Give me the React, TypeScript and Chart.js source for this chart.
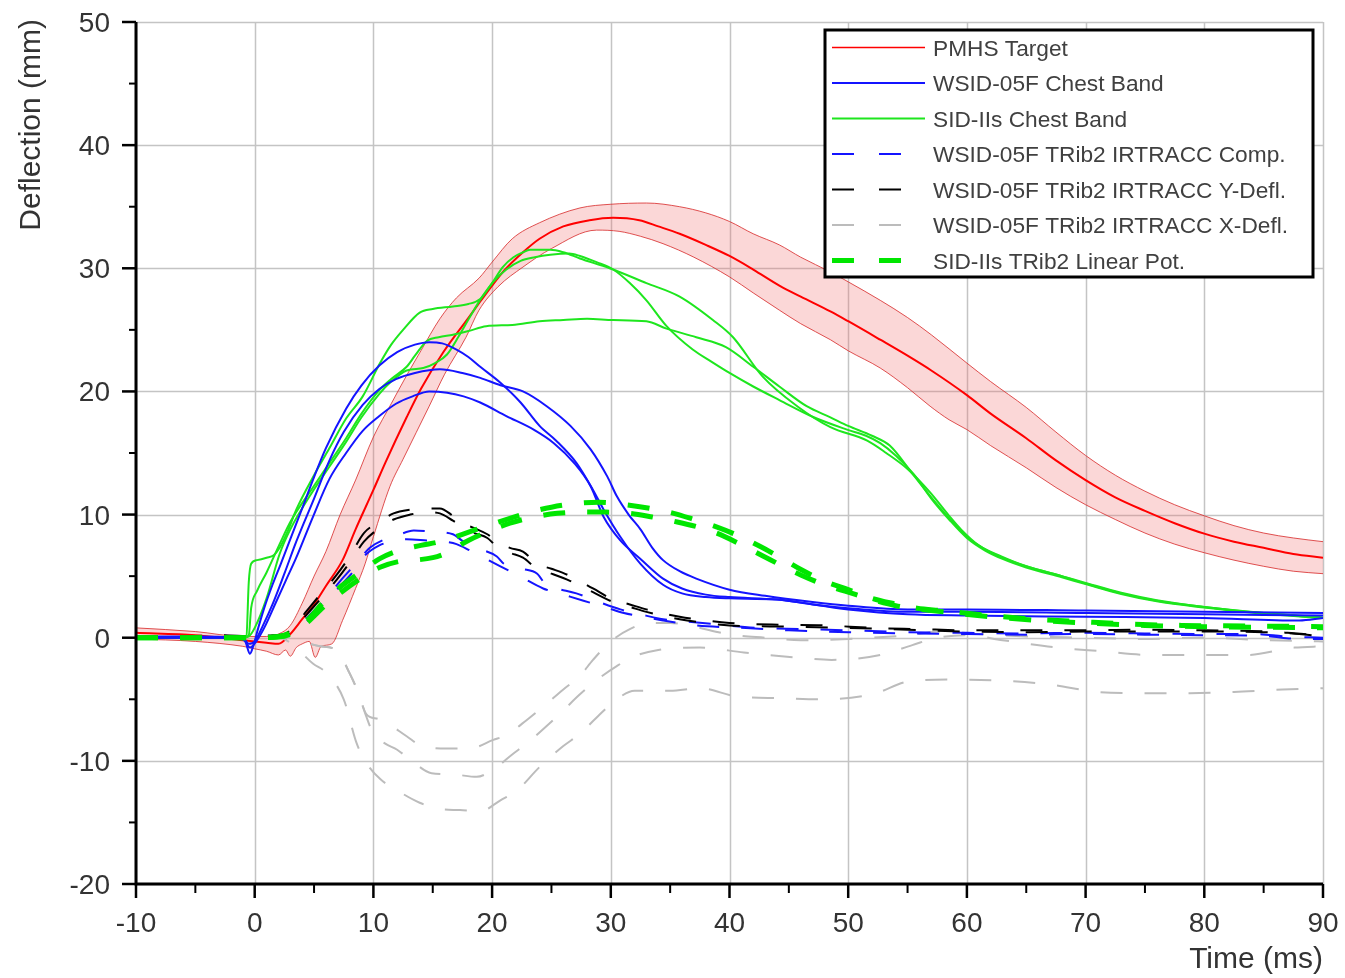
import React, { useEffect, useRef } from "react";
import { Chart, registerables } from "chart.js";

Chart.register(...registerables);

type Pt = [number, number];

const X_MIN = -10;
const X_MAX = 90;
const Y_MIN = -20;
const Y_MAX = 50;
const xMajorTicks = [-10, 0, 10, 20, 30, 40, 50, 60, 70, 80, 90];
const xMinorTicks = [-5, 5, 15, 25, 35, 45, 55, 65, 75, 85];
const yMajorTicks = [-20, -10, 0, 10, 20, 30, 40, 50];
const yMinorTicks = [-15, -5, 5, 15, 25, 35, 45];
const xTitle = "Time (ms)";
const yTitle = "Deflection (mm)";

const legendLabels = [
  "PMHS Target",
  "WSID-05F Chest Band",
  "SID-IIs Chest Band",
  "WSID-05F TRib2 IRTRACC Comp.",
  "WSID-05F TRib2 IRTRACC Y-Defl.",
  "WSID-05F TRib2 IRTRACC X-Defl.",
  "SID-IIs TRib2 Linear Pot.",
];

// PMHS target corridor
const pmhsMean: Pt[] = [[-10,0.4],[-5,0.2],[-1,-0.2],[1,-0.4],[2,-0.5],[3,0.3],[4,1.5],[5,2.7],[6,4.2],[7.4,6.3],[8.5,8.8],[10,12],[11,14.2],[12.8,17.9],[14,20.2],[15.9,23.2],[18.1,26.1],[19,27.3],[20,28.6],[21,29.8],[22.6,31.3],[24,32.4],[26,33.4],[28.2,33.9],[30.2,34.1],[32.4,33.9],[34,33.4],[35.8,32.8],[38,31.9],[40,31.0],[42,29.9],[44.2,28.6],[46,27.7],[48.5,26.5],[50,25.7],[52.7,24.2],[55,22.9],[57,21.7],[60,19.7],[62,18.2],[65,16.2],[67.5,14.4],[70,12.8],[72.5,11.4],[75,10.3],[77.5,9.3],[80,8.45],[82.5,7.8],[85,7.3],[87.5,6.8],[90,6.5]];
const pmhsUpper: Pt[] = [[-10,0.8],[-5,0.5],[-1,0.1],[1,0.1],[2,0.3],[3,1.0],[4,2.8],[5,5.0],[6,7.0],[7.2,10],[8.5,12.8],[10,16.3],[11.5,19],[12.8,21.3],[14,23.3],[15.6,25.9],[17,27.6],[18.9,29.2],[20,30.5],[21.7,32.4],[24,33.7],[27.4,34.9],[30,35.2],[33,35.3],[35.8,35.0],[38,34.5],[40,33.8],[42,32.8],[44.2,31.9],[46,30.9],[48.5,29.7],[50,28.9],[52.7,27.4],[55,26],[57,24.6],[60,22.3],[62,20.8],[65,18.7],[67.5,16.7],[70,14.8],[72.5,13.2],[75,11.9],[77.5,10.8],[80,9.9],[82.5,9.1],[85,8.5],[87.5,8.1],[90,7.8]];
const pmhsLower: Pt[] = [[-10,-0.1],[-5,-0.3],[-1,-0.7],[0,-0.9],[1,-1.1],[2,-1.4],[2.6,-1.0],[3,-1.5],[3.5,-0.8],[4,-0.5],[4.6,-0.3],[5.1,-1.6],[5.6,-0.7],[6.5,-0.5],[7.4,1.4],[8.5,4],[9.3,6],[10,8.2],[11.4,12.3],[12.5,14.5],[14.7,18.8],[16,21.4],[17.8,24.4],[18.9,26.6],[20.5,28.5],[22.6,30.1],[25,31.6],[28.8,33.1],[30.7,33.0],[32.5,32.6],[34.4,32.0],[37,30.9],[40,29.3],[42,28.0],[44.2,26.6],[46,25.5],[48.5,24.2],[50,23.3],[52.7,21.9],[55,20.3],[56.9,18.8],[58.5,17.7],[60,16.9],[62,15.6],[65,13.8],[67.5,12.2],[70,10.8],[72.5,9.6],[75,8.5],[77.5,7.6],[80,6.9],[82.5,6.3],[85,5.8],[87.5,5.4],[90,5.2]];

// WSID-05F chest band (3 tests)
const wsidBandA: Pt[] = [[-10,0.1],[-5,0.1],[-1.5,0],[-0.8,-0.3],[-0.4,-1.3],[-0.1,-0.6],[0.3,0.8],[0.8,2.4],[1.5,4.3],[2.2,6.0],[3,8.0],[4,10.5],[4.9,12.8],[6,15.4],[7.7,18.6],[9,20.5],[10.5,22.1],[12,23.2],[13.5,23.8],[14.7,24],[15.8,23.9],[17,23.4],[18,22.8],[19,22],[20.7,20.7],[22.4,19.1],[24,17.2],[25.4,16],[27.1,14.2],[28.5,12],[29.4,10.4],[30.8,8.2],[32.5,6],[34.4,4.3],[36,3.6],[38,3.3],[40,3.2],[44,3.1],[47,2.7],[50,2.4],[55,2.1],[60,2.1],[70,2.0],[80,1.9],[90,1.8]];
const wsidBandB: Pt[] = [[-10,0],[-1,0],[-0.5,-0.5],[0,-0.3],[0.7,1.0],[1.5,2.7],[2.5,5.2],[3.5,7.8],[5,11.3],[6.3,14.4],[7.5,16.7],[9.1,18.9],[10.5,20.2],[11.9,21],[13.5,21.5],[15.6,21.8],[17.5,21.5],[19,21.1],[20.7,20.5],[22.6,20],[24.6,18.8],[26.6,17.2],[28.3,15.3],[29.7,13.1],[30.5,11.5],[31.5,10],[32.5,8.8],[33.5,7.3],[34.4,6.3],[35.8,5.4],[37.2,4.8],[40,3.9],[43,3.4],[47,2.9],[50,2.6],[55,2.3],[60,2.3],[70,2.2],[80,2.1],[90,2.0]];
const wsidBandC: Pt[] = [[-10,0],[-1,0],[-0.4,-0.8],[0.2,-0.2],[0.8,0.8],[1.8,2.9],[2.6,4.6],[3.5,6.5],[4.9,9.8],[6.3,12.9],[7.7,15],[9.1,16.8],[10.5,18],[11.9,19],[13.3,19.6],[14.7,20],[16.2,19.9],[17.6,19.6],[19,19.1],[21.2,18],[23.5,16.9],[25.2,15.8],[26.9,14.2],[28.3,12.3],[29.4,9.8],[30.8,7.9],[32.5,6.4],[34.4,4.8],[36,4],[38,3.5],[40,3.3],[44,3.1],[50,2.3],[55,1.9],[60,1.8],[70,1.7],[80,1.6],[88,1.4],[90,1.6]];

// SID-IIs chest band (3 tests)
const sidBandA: Pt[] = [[-10,0],[-1,0],[-0.7,0.1],[-0.5,4.5],[-0.3,6],[0.2,6.3],[1,6.5],[1.6,6.7],[2.1,7.3],[2.8,8.7],[3.5,10.4],[5,13.2],[6.3,15.4],[7.7,17.8],[9.1,19.6],[10.56,22.3],[11.5,23.8],[12.5,25],[13.9,26.4],[15,26.7],[16.7,26.9],[18,27.1],[19,27.5],[20,28.8],[20.9,30.1],[21.8,30.9],[22.6,31.3],[23.2,31.5],[24.9,31.5],[26,31.3],[27.4,30.8],[29.9,30],[33,28.8],[35.8,27.7],[38.6,25.8],[40.3,24.4],[42.8,21.2],[45.7,18.8],[48.5,17.1],[51.6,16.0],[53.2,15.0],[55,13.7],[56.9,11.8],[58.5,9.9],[59.5,8.8],[61,7.5],[62.9,6.6],[65,5.8],[68,5.0],[70,4.45],[73,3.65],[76,3.05],[80,2.5],[85,2.0],[90,1.65]];
const sidBandB: Pt[] = [[-10,0],[-1,0],[-0.5,0.1],[0,0.8],[1,3.2],[2.1,6.8],[3,8.8],[4.9,11.9],[6.3,13.9],[7.7,15.9],[9,17.9],[10.5,19.8],[11.5,20.8],[12.8,21.7],[14.2,21.9],[15.2,22.3],[16.2,23],[17.2,24.5],[18.1,26],[19.1,27.6],[20.1,28.9],[21.2,29.9],[22.4,30.6],[23.6,30.9],[24.9,31.1],[26.5,31.2],[27.4,31],[28.8,30.5],[30.2,29.9],[31.6,28.8],[33,27.4],[34.7,25.3],[36.9,23.4],[38.5,22.4],[40,21.5],[42,20.4],[44.2,19.3],[47.1,17.9],[49.9,16.9],[51.5,16.4],[52.7,15.8],[54,14.8],[55.5,13.3],[57,11.3],[58.5,9.6],[60,8.1],[61.5,7.1],[63,6.4],[65,5.7],[68,4.9],[70,4.35],[73,3.55],[76,2.95],[80,2.45],[85,1.95],[90,1.6]];
const sidBandC: Pt[] = [[-10,0],[-1,0],[-0.5,0.2],[-0.3,2.4],[0.2,3.8],[1,5.3],[2.1,7.6],[3,9.4],[4.9,12.2],[6.3,14.2],[7.7,16.2],[9,18.2],[10.5,20.1],[11.5,21],[12.8,22],[13.5,22.9],[14.5,24.1],[15.5,24.4],[16.7,24.6],[18,24.9],[19.5,25.3],[21.7,25.4],[24,25.7],[26,25.8],[28,25.9],[30.2,25.8],[33,25.7],[34.7,25.1],[37.2,24.4],[39.7,23.6],[42,22],[44.2,20.4],[46.5,18.8],[48.5,17.9],[50,17.2],[52,16.4],[53.5,15.6],[55.5,13.2],[57,11.4],[58.5,9.7],[60,8.2],[61.5,7.2],[63,6.5],[65,5.8],[68,5],[70,4.4],[73,3.6],[76,3.0],[80,2.5],[85,2.0],[90,1.6]];

// WSID-05F IRTRACC compression (blue dashed)
const irComp1: Pt[] = [[-10,0],[0,0],[2.5,0.2],[3.5,0.8],[4.7,1.9],[6,3.2],[7.2,4.6],[8.5,6],[9.7,7.3],[11,8],[12,8.3],[13.4,8.7],[15,8.6],[16.7,8.4],[17.6,7.8],[19,7.2],[20.4,6.6],[21,6],[22.5,5.6],[23.8,5.2],[24.6,4.2],[25.8,3.9],[27.1,3.6],[29,2.9],[30.8,2.3],[32.5,1.9],[34.4,1.5],[36.5,1.3],[38.7,1.1],[42.3,0.8],[46,0.7],[50,0.6],[55,0.45],[60,0.4],[65,0.35],[70,0.4],[75,0.35],[80,0.3],[84,0.3],[87,0.1],[90,0]];
const irComp2: Pt[] = [[-10,0],[0,0],[2.5,0.1],[3.5,0.6],[4.7,1.6],[6,2.9],[7.2,4.2],[8.5,5.6],[9.2,6.6],[10.5,7.5],[11.5,7.8],[12.8,8.0],[14.5,7.9],[16,7.8],[17,7.6],[18.1,7.1],[19.5,6.4],[20.7,5.8],[22.5,4.9],[24.3,4.0],[26,3.5],[27.7,3.0],[29.5,2.5],[31.1,2.0],[32.8,1.7],[34.4,1.4],[37.2,1.0],[41,0.8],[45,0.6],[50,0.45],[55,0.35],[60,0.3],[65,0.25],[70,0.3],[75,0.25],[80,0.2],[85,0.15],[88,-0.1],[90,-0.1]];

// WSID-05F IRTRACC Y deflection (black dashed)
const irY1: Pt[] = [[-10,0.1],[-6,0.1],[-3,0.2],[0,0.1],[1.5,0.2],[2.5,0.3],[3.3,0.9],[4.4,2.2],[5.6,3.6],[6.9,5.1],[8,6.6],[9.2,8.5],[10.5,9.4],[11.7,10.1],[13.1,10.4],[14.5,10.5],[15.6,10.5],[16.7,9.9],[17.5,9.3],[18.5,8.9],[19.6,8.4],[20.4,7.8],[21.5,7.3],[22.6,7],[23.8,6],[25,5.6],[26.6,5.0],[28.5,4],[30.2,3.1],[31.6,2.7],[33,2.3],[35.8,1.7],[38,1.4],[40,1.2],[44.3,1.05],[48,1.0],[52,0.8],[56,0.7],[60,0.6],[65,0.6],[70,0.6],[75,0.65],[80,0.6],[84,0.55],[87,0.4],[90,0.15]];
const irY2: Pt[] = [[-10,0],[0,0],[2.5,0.2],[3.3,0.7],[4.4,1.9],[5.6,3.2],[6.9,4.7],[8,6.1],[9.2,7.8],[10.5,8.9],[11.7,9.6],[13.1,10.0],[14.5,10.2],[15.6,10.1],[16.7,9.5],[17.5,9],[18.5,8.5],[19.6,8.1],[20.4,7.4],[21.5,6.9],[22.6,6.5],[23.8,5.6],[25,5.2],[26.6,4.6],[28.5,3.7],[30.2,2.9],[31.6,2.5],[33,2.1],[35.8,1.5],[38,1.2],[40,1.0],[45,0.9],[50,0.8],[55,0.65],[60,0.5],[65,0.45],[70,0.5],[75,0.5],[80,0.5],[85,0.45],[88,0.3],[90,0.1]];

// WSID-05F IRTRACC X deflection (grey dashed)
const irX1: Pt[] = [[-10,0],[2,0],[3,-0.4],[4.9,-2.1],[6.1,-2.9],[7.5,-5],[8.6,-8.6],[9.5,-10.3],[10.6,-11.5],[12,-12.4],[13.9,-13.4],[15.5,-13.9],[17.3,-14],[19,-14.1],[20.7,-13.2],[22.1,-12.4],[24,-10.5],[26,-8.8],[27.4,-7.8],[29,-6.3],[30.5,-5],[32,-4.3],[35,-4.3],[37.5,-4.1],[40.8,-4.8],[44.2,-4.9],[47.6,-5],[52,-4.6],[55.4,-3.5],[59.2,-3.4],[63.2,-3.5],[67,-3.8],[71,-4.4],[74.7,-4.5],[78.8,-4.5],[82.5,-4.4],[86.6,-4.2],[90,-4.1]];
const irX2: Pt[] = [[-10,0],[3,0],[4,-0.3],[5.5,-0.7],[6.9,-1],[8,-2.9],[8.7,-4.4],[9.4,-6.4],[10,-7.8],[11,-8.6],[12,-9.1],[13.1,-9.9],[14.9,-11],[16.7,-11.1],[18.7,-11.3],[20.1,-10.7],[21.8,-9.4],[22.9,-8.6],[24.9,-6.9],[26,-5.9],[27.4,-4.6],[29,-3.3],[30.5,-2.3],[32,-1.5],[34,-1],[37.5,-0.8],[41.2,-1.2],[45.6,-1.6],[48.6,-1.8],[52.7,-1.4],[55.4,-0.6],[57.5,0],[60,0.2],[63,-0.2],[67.6,-0.8],[71.4,-1.1],[75.4,-1.4],[79.2,-1.4],[83.6,-1.4],[87.6,-0.8],[90,-0.7]];
const irX3: Pt[] = [[-10,0],[3,0],[4,-0.3],[5.5,-0.7],[6.9,-1],[8,-2.9],[8.7,-4.4],[9.4,-6.2],[10.4,-6.6],[11.1,-6.9],[12.8,-8],[14.1,-8.8],[16.3,-9],[18.1,-9],[20.1,-8.3],[21.2,-7.9],[22.9,-6.7],[24.3,-5.6],[26,-4.2],[27.4,-3.1],[28.5,-1.8],[30,-0.3],[31.6,0.7],[33.3,1.2],[35,1.2],[37,0.9],[39.8,0.3],[43,0],[46,-0.2],[50,-0.1],[55,0.2],[58,0.5],[61,0.3],[65,0.1],[70,0],[75,-0.1],[80,0],[85,-0.2],[90,-0.3]];

// SID-IIs linear pot (thick green dashed)
const linPot1: Pt[] = [[-10,0],[-5,0],[0,0],[2,0.1],[3,0.4],[4.5,1.5],[5.8,2.9],[7.3,4.2],[8.9,5.3],[10.5,6.4],[12.2,7.1],[14,7.5],[15.6,7.8],[17.5,8.4],[19.6,9.1],[21.5,9.7],[23.2,10.2],[25,10.6],[27.1,10.9],[29,11],[31.3,10.8],[33.3,10.5],[35.3,10.1],[37,9.6],[38.9,9],[40.7,8.3],[42.6,7.4],[44.3,6.5],[45.9,5.6],[48,4.6],[50,3.9],[52,3.2],[53.7,2.8],[55.8,2.4],[57.8,2.2],[61.9,1.8],[65.8,1.5],[69.7,1.3],[74,1.1],[78.1,1.0],[84,0.95],[90,0.9]];
const linPot2: Pt[] = [[-10,0],[-5,0],[0,0],[2,0.05],[3,0.3],[4.5,1.3],[5.8,2.5],[7.3,3.7],[8.9,4.8],[10.5,5.7],[12.2,6.2],[13.5,6.3],[15,6.5],[16.2,6.9],[18,7.9],[19.6,8.6],[21.5,9.3],[23.5,9.8],[25.5,10.1],[27.4,10.2],[29.5,10.2],[31.6,10.1],[33.5,9.8],[35.6,9.4],[37.3,9],[38.9,8.5],[40.9,7.6],[42.9,6.6],[44.5,5.8],[46,5.1],[48,4.3],[50,3.7],[52,3.1],[54,2.6],[58,2.1],[62,1.7],[66,1.4],[70,1.2],[75,1.0],[80,0.9],[85,0.85],[90,0.8]];

const FONT = '"Liberation Sans", Arial, Helvetica, sans-serif';
const RED = "#ff0000";
const BLUE = "#1414ff";
const GREEN = "#1ee61e";
const GREEN_POT = "#00e600";
const GREY = "#bcbcbc";
const BLACK = "#000000";
const DASH = [22, 22];

const xy = (a: Pt[]) => a.map(([x, y]) => ({ x, y }));

const legendItems = [
  { color: RED, width: 1.5, dash: [] as number[] },
  { color: BLUE, width: 2, dash: [] as number[] },
  { color: GREEN, width: 2, dash: [] as number[] },
  { color: BLUE, width: 2, dash: [22, 25] },
  { color: BLACK, width: 2, dash: [22, 25] },
  { color: GREY, width: 2, dash: [22, 25] },
  { color: GREEN_POT, width: 5, dash: [22, 25] },
];

const framePlugin = {
  id: "frame",
  beforeDatasetsDraw(chart: any) {
    const { ctx, chartArea: a, scales } = chart;
    const xs = scales.x;
    const ys = scales.y;
    ctx.save();
    ctx.strokeStyle = "#c4c4c4";
    ctx.lineWidth = 1.5;
    ctx.setLineDash([]);
    xMajorTicks.forEach((v) => {
      const px = Math.round(xs.getPixelForValue(v)) + 0.5;
      ctx.beginPath();
      ctx.moveTo(px, a.top);
      ctx.lineTo(px, a.bottom);
      ctx.stroke();
    });
    yMajorTicks.forEach((v) => {
      const py = Math.round(ys.getPixelForValue(v)) + 0.5;
      ctx.beginPath();
      ctx.moveTo(a.left, py);
      ctx.lineTo(a.right, py);
      ctx.stroke();
    });
    ctx.restore();
  },
  afterDatasetsDraw(chart: any) {
    const { ctx, chartArea: a, scales } = chart;
    const xs = scales.x;
    const ys = scales.y;
    ctx.save();
    ctx.setLineDash([]);
    ctx.strokeStyle = "#000";
    // axes
    ctx.lineWidth = 3;
    ctx.beginPath();
    ctx.moveTo(a.left, a.top);
    ctx.lineTo(a.left, a.bottom);
    ctx.lineTo(a.right, a.bottom);
    ctx.stroke();
    // ticks
    ctx.lineWidth = 2.5;
    xMajorTicks.forEach((v) => {
      const px = xs.getPixelForValue(v);
      ctx.beginPath();
      ctx.moveTo(px, a.bottom);
      ctx.lineTo(px, a.bottom + 14);
      ctx.stroke();
    });
    yMajorTicks.forEach((v) => {
      const py = ys.getPixelForValue(v);
      ctx.beginPath();
      ctx.moveTo(a.left, py);
      ctx.lineTo(a.left - 14, py);
      ctx.stroke();
    });
    ctx.lineWidth = 2;
    xMinorTicks.forEach((v) => {
      const px = xs.getPixelForValue(v);
      ctx.beginPath();
      ctx.moveTo(px, a.bottom);
      ctx.lineTo(px, a.bottom + 9);
      ctx.stroke();
    });
    yMinorTicks.forEach((v) => {
      const py = ys.getPixelForValue(v);
      ctx.beginPath();
      ctx.moveTo(a.left, py);
      ctx.lineTo(a.left - 7, py);
      ctx.stroke();
    });
    // tick labels
    ctx.fillStyle = "#333";
    ctx.font = `28px ${FONT}`;
    ctx.textAlign = "center";
    ctx.textBaseline = "alphabetic";
    xMajorTicks.forEach((v) => {
      ctx.fillText(String(v), xs.getPixelForValue(v), a.bottom + 48);
    });
    ctx.textAlign = "right";
    yMajorTicks.forEach((v) => {
      ctx.fillText(String(v), a.left - 26, ys.getPixelForValue(v) + 10);
    });
    // axis titles
    ctx.font = `30px ${FONT}`;
    ctx.textAlign = "right";
    ctx.fillText(xTitle, a.right, 968);
    ctx.save();
    ctx.translate(40, a.top - 3);
    ctx.rotate(-Math.PI / 2);
    ctx.textAlign = "right";
    ctx.fillText(yTitle, 0, 0);
    ctx.restore();

    // legend
    const bx = 825, by = 30, bw = 488, bh = 247;
    ctx.fillStyle = "#fff";
    ctx.fillRect(bx, by, bw, bh);
    ctx.strokeStyle = "#000";
    ctx.lineWidth = 3;
    ctx.strokeRect(bx, by, bw, bh);
    ctx.font = `22.7px ${FONT}`;
    ctx.textAlign = "left";
    legendLabels.forEach((label, i) => {
      const it = legendItems[i];
      const ry = 47.5 + i * 35.5;
      ctx.strokeStyle = it.color;
      ctx.lineWidth = it.width;
      ctx.setLineDash(it.dash);
      ctx.lineDashOffset = 0;
      ctx.beginPath();
      ctx.moveTo(832, ry);
      ctx.lineTo(925, ry);
      ctx.stroke();
      ctx.setLineDash([]);
      ctx.fillStyle = "#404040";
      ctx.fillText(label, 933, ry + 8);
    });
    ctx.restore();
  },
};

export default function App() {
  const ref = useRef<HTMLCanvasElement | null>(null);
  useEffect(() => {
    if (!ref.current) return;
    const base = { pointRadius: 0, cubicInterpolationMode: "monotone", fill: false as any };
    const datasets: any[] = [
      { ...base, label: "PMHS upper", data: xy(pmhsUpper), borderColor: "rgba(215,40,40,0.8)", borderWidth: 1, backgroundColor: "rgba(240,110,110,0.28)", fill: "+1", order: 20 },
      { ...base, label: "PMHS lower", data: xy(pmhsLower), borderColor: "rgba(215,40,40,0.8)", borderWidth: 1, order: 19 },
      { ...base, label: legendLabels[0], data: xy(pmhsMean), borderColor: RED, borderWidth: 2, order: 18 },
      { ...base, label: legendLabels[5], data: xy(irX1), borderColor: GREY, borderWidth: 2, borderDash: DASH, order: 12 },
      { ...base, label: legendLabels[5], data: xy(irX2), borderColor: GREY, borderWidth: 2, borderDash: DASH, order: 12 },
      { ...base, label: legendLabels[5], data: xy(irX3), borderColor: GREY, borderWidth: 2, borderDash: DASH, order: 12 },
      { ...base, label: legendLabels[2], data: xy(sidBandA), borderColor: GREEN, borderWidth: 2, order: 10 },
      { ...base, label: legendLabels[2], data: xy(sidBandB), borderColor: GREEN, borderWidth: 2, order: 10 },
      { ...base, label: legendLabels[2], data: xy(sidBandC), borderColor: GREEN, borderWidth: 2, order: 10 },
      { ...base, label: legendLabels[1], data: xy(wsidBandA), borderColor: BLUE, borderWidth: 2, order: 8 },
      { ...base, label: legendLabels[1], data: xy(wsidBandB), borderColor: BLUE, borderWidth: 2, order: 8 },
      { ...base, label: legendLabels[1], data: xy(wsidBandC), borderColor: BLUE, borderWidth: 2, order: 8 },
      { ...base, label: legendLabels[3], data: xy(irComp1), borderColor: BLUE, borderWidth: 2, borderDash: DASH, order: 6 },
      { ...base, label: legendLabels[3], data: xy(irComp2), borderColor: BLUE, borderWidth: 2, borderDash: DASH, order: 6 },
      { ...base, label: legendLabels[4], data: xy(irY1), borderColor: BLACK, borderWidth: 2, borderDash: DASH, order: 5 },
      { ...base, label: legendLabels[4], data: xy(irY2), borderColor: BLACK, borderWidth: 2, borderDash: DASH, order: 5 },
      { ...base, label: legendLabels[6], data: xy(linPot1), borderColor: GREEN_POT, borderWidth: 5, borderDash: DASH, order: 3 },
      { ...base, label: legendLabels[6], data: xy(linPot2), borderColor: GREEN_POT, borderWidth: 5, borderDash: DASH, order: 3 },
    ];
    const chart = new Chart(ref.current, {
      type: "line",
      data: { datasets },
      options: {
        responsive: false,
        animation: false,
        events: [],
        layout: { padding: { left: 136, right: 22, top: 22, bottom: 94 } },
        plugins: { legend: { display: false }, tooltip: { enabled: false } },
        scales: {
          x: { type: "linear", min: X_MIN, max: X_MAX, display: false },
          y: { type: "linear", min: Y_MIN, max: Y_MAX, display: false },
        },
      },
      plugins: [framePlugin],
    });
    return () => chart.destroy();
  }, []);
  return (
    <canvas
      ref={ref}
      width={1345}
      height={978}
      style={{ position: "absolute", left: 0, top: 0, width: 1345, height: 978, background: "#fff" }}
    />
  );
}
